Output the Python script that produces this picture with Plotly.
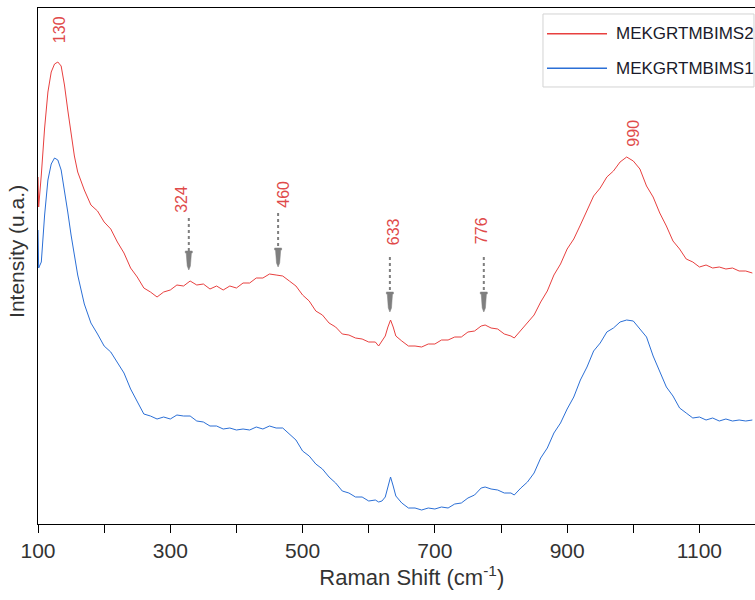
import plotly.graph_objects as go

# ---------------- data ----------------
wavenumber = [
    100, 101, 105, 110, 115, 120, 125, 130, 135, 140,
    145, 150, 155, 160, 170, 180, 190, 200, 210, 220,
    230, 240, 250, 260, 270, 280, 290, 300, 310, 320,
    330, 340, 350, 360, 370, 380, 390, 400, 410, 420,
    430, 440, 450, 460, 470, 480, 490, 500, 510, 520,
    530, 540, 550, 560, 570, 580, 590, 600, 610, 615,
    620, 625, 629, 633, 637, 641, 650, 660, 670, 680,
    690, 700, 710, 720, 730, 740, 750, 760, 770, 776,
    785, 795, 805, 815, 820, 825, 830, 840, 850, 860,
    870, 880, 890, 900, 910, 920, 930, 940, 950, 960,
    970, 980, 990, 1000, 1010, 1020, 1030, 1040, 1050, 1060,
    1070, 1080, 1090, 1100, 1110, 1120, 1130, 1140, 1150, 1160,
    1170, 1180,
]

intensity_ms2 = [
    344, 314, 346, 393, 429, 449, 457, 459, 455, 436,
    411, 386, 365, 349, 331, 316, 310, 299, 292, 279,
    268, 253, 244, 233, 229, 224, 229, 231, 236, 235,
    240, 236, 237, 232, 235, 231, 235, 233, 238, 238,
    243, 243, 247, 246, 245, 240, 235, 226, 220, 210,
    206, 198, 194, 187, 186, 183, 182, 179, 179, 175,
    180, 185, 194, 201, 194, 185, 180, 175, 175, 174,
    177, 177, 181, 181, 184, 184, 189, 190, 195, 196,
    193, 192, 187, 185, 183, 187, 190, 198, 206, 219,
    230, 246, 257, 272, 282, 296, 310, 325, 333, 344,
    350, 359, 364, 360, 352, 335, 324, 308, 295, 280,
    272, 262, 259, 254, 256, 253, 254, 252, 253, 250,
    250, 248,
]

intensity_ms1 = [
    291, 253, 259, 306, 341, 357, 363, 361, 351, 331,
    309, 286, 265, 246, 217, 198, 187, 175, 169, 158,
    148, 132, 120, 107, 105, 102, 104, 102, 106, 105,
    105, 100, 99, 95, 95, 92, 93, 91, 92, 91,
    94, 92, 95, 93, 93, 87, 81, 70, 65, 57,
    52, 44, 38, 30, 28, 24, 24, 20, 21, 19,
    20, 24, 35, 44, 35, 25, 18, 13, 13, 11,
    13, 12, 14, 13, 17, 18, 23, 26, 33, 34,
    32, 31, 28, 28, 26, 30, 33, 39, 48, 63,
    73, 88, 98, 112, 124, 141, 154, 170, 178, 189,
    193, 199, 201, 200, 192, 184, 165, 150, 134, 125,
    113, 108, 103, 104, 101, 103, 100, 102, 100, 101,
    100, 101,
]

series_names = ["MEKGRTMBIMS2", "MEKGRTMBIMS1"]
x_tick_labels = ["100", "300", "500", "700", "900", "1100"]
peak_labels = ["130", "324", "460", "633", "776", "990"]
x_title = "Raman Shift (cm<sup>-1</sup>)"
y_title = "Intensity (u.a.)"

# ---------------- styling ----------------
RED = "#E8403F"
BLUE = "#2B6FD6"
LABEL_RED = "#E04A4A"
GRAY = "#7F7F7F"
FONT = "Arial, Liberation Sans, sans-serif"
NB = "&nbsp;"

X0, X1 = 100, 1184
PLOT_W = 755 - 38
XU = (X1 - X0) / PLOT_W     # x data units per pixel

fig = go.Figure()
fig.add_trace(go.Scatter(x=wavenumber, y=intensity_ms2, mode="lines",
                         name=series_names[0], line=dict(color=RED, width=1),
                         showlegend=False))
fig.add_trace(go.Scatter(x=wavenumber, y=intensity_ms1, mode="lines",
                         name=series_names[1], line=dict(color=BLUE, width=1),
                         showlegend=False))

shapes = []
annotations = []

# peak labels (rotated) : (x, y) placement in data units
label_place = [(132, 491), (316, 322), (470, 327), (637, 289), (770, 290), (999, 388)]
for txt, (lx, ly) in zip(peak_labels, label_place):
    annotations.append(dict(x=lx, y=ly, xref="x", yref="y", text=txt, textangle=-90,
                            showarrow=False, xanchor="center", yanchor="middle",
                            font=dict(family=FONT, size=16, color=LABEL_RED)))

# dashed arrows: (x, top, head start, tip)
arrow_place = [(328, 303, 270, 251), (463, 308, 273, 254), (632, 264, 229, 209), (774, 264, 229, 209)]
for ax_, top, hs, tip in arrow_place:
    shapes.append(dict(type="line", xref="x", yref="y", x0=ax_, x1=ax_, y0=top, y1=hs,
                       line=dict(color=GRAY, width=2, dash="3px,3px")))
    pts = [(-3.5, hs), (3.5, hs), (3.5, hs - 2), (2.6, hs - 2), (1.6, tip + 4),
           (0, tip), (-1.6, tip + 4), (-2.6, hs - 2), (-3.5, hs - 2)]
    path = "M " + " L ".join(f"{ax_ + dx * XU:.2f},{yy:.2f}" for dx, yy in pts) + " Z"
    shapes.append(dict(type="path", xref="x", yref="y", path=path,
                       fillcolor=GRAY, line=dict(color=GRAY, width=0.5)))

# manual legend
shapes.append(dict(type="rect", xref="paper", yref="paper", x0=0.7043, x1=0.9986,
                   y0=0.8469, y1=0.9884, line=dict(color="#D3D3D3", width=1),
                   fillcolor="white", layer="above"))
for nm, col, yy in zip(series_names, [RED, BLUE], [0.9500, 0.8831]):
    shapes.append(dict(type="line", xref="paper", yref="paper", x0=0.7099, x1=0.7936,
                       y0=yy, y1=yy, line=dict(color=col, width=1.5), layer="above"))
    annotations.append(dict(x=0.8033, y=yy, xref="paper", yref="paper", text=nm,
                            showarrow=False, xanchor="left", yanchor="middle",
                            font=dict(family=FONT, size=17, color="#1a1a2a")))

fig.update_layout(
    width=755, height=600,
    margin=dict(l=38, r=0, t=8, b=76),
    paper_bgcolor="white", plot_bgcolor="white",
    shapes=shapes, annotations=annotations,
    showlegend=False,
    font=dict(family=FONT, color="#333333"),
    xaxis=dict(range=[X0, X1], tickmode="array",
               tickvals=[100, 300, 500, 700, 900, 1100], ticktext=x_tick_labels,
               ticks="outside", ticklen=8, tickwidth=1, tickcolor="black",
               minor=dict(tickvals=[200, 400, 600, 800, 1000], ticks="outside",
                          ticklen=8, tickwidth=1, tickcolor="black"),
               showline=True, linecolor="black", linewidth=1, mirror=True,
               showgrid=False, zeroline=False, automargin=False,
               tickfont=dict(family=FONT, size=21, color="#333333"),
               title=dict(text=NB * 5 + x_title, standoff=6,
                          font=dict(family=FONT, size=22, color="#333333"))),
    yaxis=dict(range=[-3, 513], showticklabels=False, ticks="",
               showline=True, linecolor="black", linewidth=1, mirror=False,
               showgrid=False, zeroline=False, automargin=False,
               title=dict(text=NB * 5 + y_title, standoff=6,
                          font=dict(family=FONT, size=21, color="#333333"))),
)

fig.write_html("out.html")
